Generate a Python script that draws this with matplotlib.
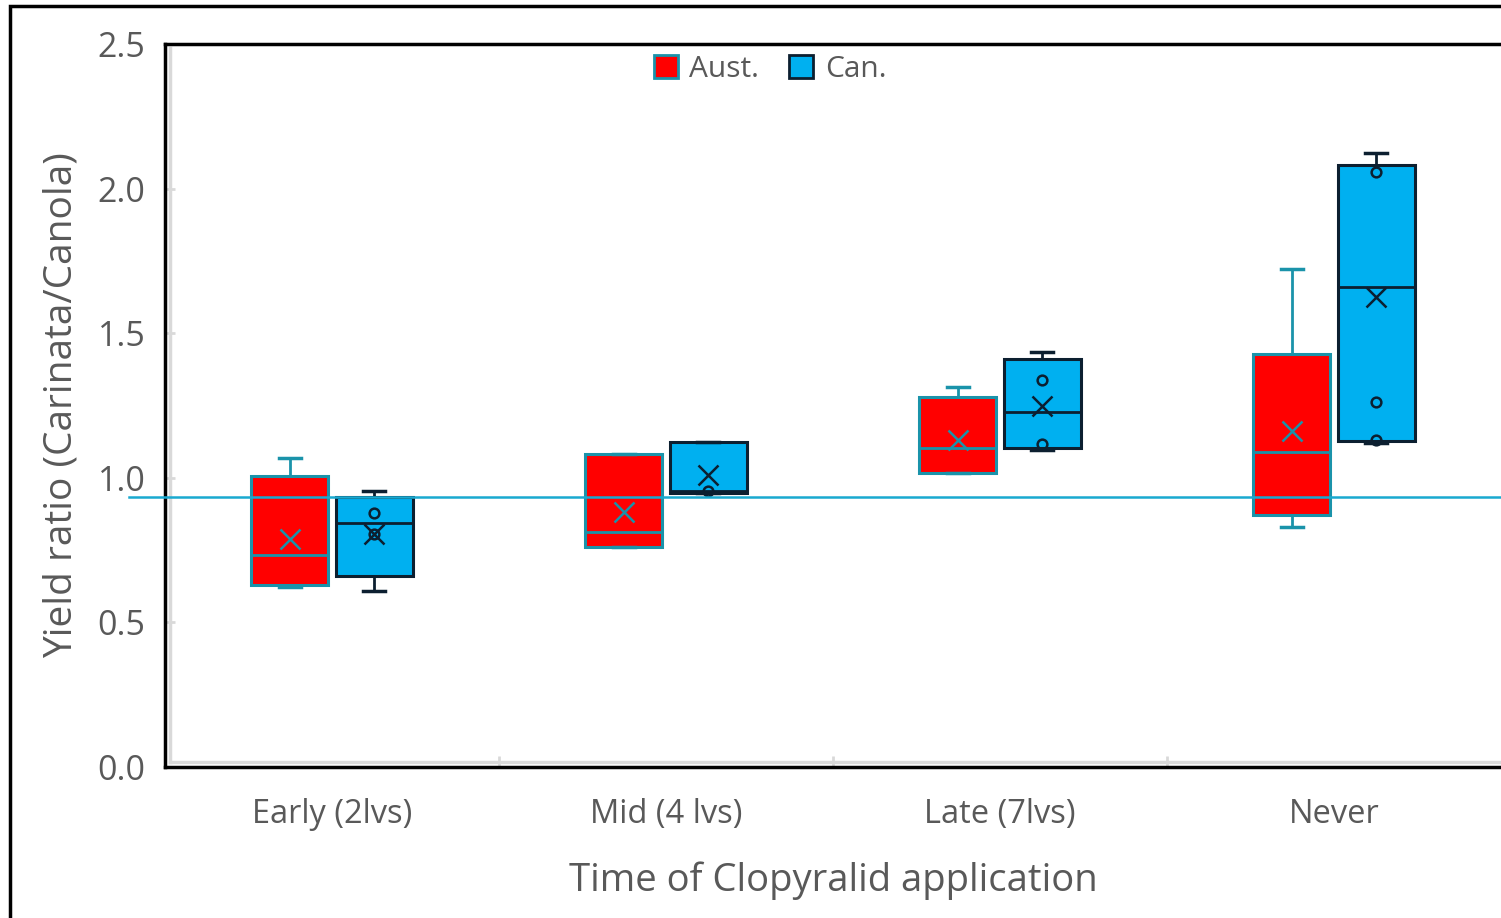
import numpy as np
import matplotlib
matplotlib.use('Agg')
import matplotlib.pyplot as plt
from matplotlib.patches import Rectangle, Patch
from matplotlib.lines import Line2D

plt.rcParams['font.family'] = ['Open Sans', 'DejaVu Sans']

# data
categories = ['Early (2lvs)', 'Mid (4 lvs)', 'Late (7lvs)', 'Never']
series = ['Aust.', 'Can.']

aust_q1 = [0.629, 0.761, 1.015, 0.873]
aust_med = [0.734, 0.814, 1.102, 1.088]
aust_q3 = [1.005, 1.081, 1.280, 1.429]
aust_lo = [0.622, 0.761, 1.015, 0.831]
aust_hi = [1.067, 1.081, 1.314, 1.721]
aust_mean = [0.789, 0.883, 1.130, 1.161]
aust_pts = [[], [], [], []]

can_q1 = [0.661, 0.946, 1.102, 1.127]
can_med = [0.845, 0.956, 1.227, 1.659]
can_q3 = [0.935, 1.123, 1.412, 2.083]
can_lo = [0.608, 0.946, 1.095, 1.120]
can_hi = [0.953, 1.123, 1.436, 2.124]
can_mean = [0.807, 1.008, 1.248, 1.624]
can_pts = [[0.880, 0.807], [0.956], [1.339, 1.116], [2.058, 1.262, 1.130]]

ref_level = 0.935

grey = '#595959'
aust_fill, aust_edge = '#FF0000', '#1A93AA'
can_fill, can_edge = '#00B0F0', '#0C1F30'


def make_stats(q1, med, q3, lo, hi, mean, pts):
    out = []
    for i in range(len(q1)):
        out.append(dict(q1=q1[i], med=med[i], q3=q3[i], whislo=lo[i],
                        whishi=hi[i], mean=mean[i], fliers=pts[i]))
    return out


fig = plt.figure(figsize=(15.01, 9.18), dpi=100)
ax = fig.add_axes([165 / 1501, 1 - 767 / 918, 1 - 165 / 1501, (767 - 44) / 918])

x = np.arange(len(categories))
off = 0.127
w = 0.233

groups = [
    (make_stats(aust_q1, aust_med, aust_q3, aust_lo, aust_hi, aust_mean, aust_pts), -off, aust_fill, aust_edge),
    (make_stats(can_q1, can_med, can_q3, can_lo, can_hi, can_mean, can_pts), off, can_fill, can_edge),
]
for stats, dx, fc, ec in groups:
    ax.bxp(stats, positions=x + dx, widths=w, capwidths=0.066,
           patch_artist=True, showmeans=True, manage_ticks=False,
           boxprops=dict(facecolor=fc, edgecolor=ec, linewidth=2.2),
           medianprops=dict(color=ec, linewidth=2),
           whiskerprops=dict(color=ec, linewidth=2),
           capprops=dict(color=ec, linewidth=2.5),
           meanprops=dict(marker='x', markersize=14, markeredgecolor=ec,
                          markeredgewidth=1.8),
           flierprops=dict(marker='o', markersize=7, markerfacecolor='none',
                           markeredgecolor=ec, markeredgewidth=1.8))

# reference line
ax.axhline(ref_level, xmin=-0.027, xmax=1, color='#19A9D0', lw=1.8,
           clip_on=False, zorder=5)

ax.set_xlim(-0.5, len(categories) - 0.5)
ax.set_ylim(0, 2.5)
ax.set_yticks(np.arange(0, 2.51, 0.5))
ax.yaxis.set_major_formatter(matplotlib.ticker.FormatStrFormatter('%.1f'))
ax.set_xticks(x)
ax.set_xticklabels(categories)
ax.set_xticks(x[:-1] + 0.5, minor=True)

ax.tick_params(axis='y', direction='in', length=7, width=2, color='#D9D9D9',
               labelsize=24.5, labelcolor=grey, pad=14)
ax.tick_params(axis='x', which='major', length=0, labelsize=23.5,
               labelcolor=grey, pad=22)
ax.tick_params(axis='x', which='minor', direction='in', length=8, width=2,
               color='#D9D9D9')

for s in ['left', 'bottom', 'top']:
    ax.spines[s].set_linewidth(2.5)
    ax.spines[s].set_color('black')
ax.spines['right'].set_visible(False)

# light grey inner edge
ax.add_line(Line2D([0.004, 0.004], [0.007, 0.995], transform=ax.transAxes,
                   color='#D9D9D9', lw=2.5))
ax.add_line(Line2D([0.004, 1], [0.007, 0.007], transform=ax.transAxes,
                   color='#D9D9D9', lw=2.5))

ax.set_xlabel('Time of Clopyralid application', fontsize=27.5, color=grey,
              labelpad=22)
ax.set_ylabel('Yield ratio (Carinata/Canola)', fontsize=28, color=grey,
              labelpad=12)

handles = [Patch(facecolor=aust_fill, edgecolor=aust_edge, lw=2),
           Patch(facecolor=can_fill, edgecolor=can_edge, lw=2)]
ax.legend(handles, series, loc='upper center', bbox_to_anchor=(0.453, 1.01),
          ncol=2, frameon=False, fontsize=21.5, labelcolor=grey,
          handlelength=0.8, handleheight=0.8, handletextpad=0.4,
          columnspacing=1.0, borderaxespad=0.2)

# outer chart border
fig.patches.append(Rectangle((10 / 1501, -0.1), 1.2, 1 - 6 / 918 + 0.1,
                             transform=fig.transFigure, fill=False,
                             edgecolor='black', lw=2.5))

fig.savefig('out.png', dpi=100)
